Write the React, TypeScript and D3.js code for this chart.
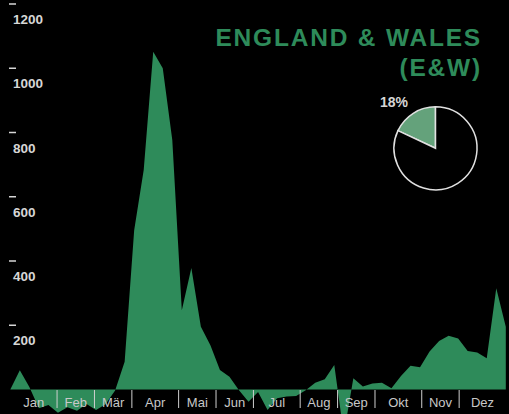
import React from "react";
import * as d3 from "d3";

const W = 509;
const H = 414;

// Weekly values (53 weeks)
const weeklyValues: number[] = [
  0, 60, 8, -58, -48, -72, -55, -66, -45, -64, -46, -3,
  86, 496, 683, 1051, 1000, 777, 247, 378, 195, 138, 61, 40,
  -2, -38, -8, -64, -27, -22, -20, -2, 21, 32, 76, -140, 35, 9, 19, 21, 4, 42,
  74, 69, 118, 151, 167, 159, 120, 115, 97, 315, 195,
];

const months: string[] = ["Jan", "Feb", "Mär", "Apr", "Mai", "Jun", "Jul", "Aug", "Sep", "Okt", "Nov", "Dez"];
const monthWeeks: number[] = [5, 4, 4, 5, 4, 4, 5, 4, 4, 5, 4, 5];

const yTicks: number[] = [200, 400, 600, 800, 1000, 1200];

const titleLines: string[] = ["ENGLAND & WALES", "(E&W)"];
const pieShare: number[] = [18, 82];
const pieLabel = "18%";

const GREEN = "#2e8b5a";
const LIGHT_GREEN = "#64a27b";
const TEXT = "#d6d6d6";

export default function App() {
  React.useEffect(() => {
    document.body.style.margin = "0";
    document.body.style.background = "#000";
  }, []);

  const x = d3.scaleLinear().domain([0, weeklyValues.length - 1]).range([10.3, 505.8]);
  const weekX = d3.scaleLinear().domain([0, 53]).range([10.3, 505.9]);
  const y = d3.scaleLinear().domain([0, 1200]).range([389.5, 4]);

  const area = d3
    .area<number>()
    .x((_, i) => x(i))
    .y0(y(0))
    .y1((d) => y(d));

  // month boundaries
  const bounds: number[] = [0];
  monthWeeks.forEach((w, i) => bounds.push(bounds[i] + w));

  const pieGen = d3
    .pie<number>()
    .sort(null)
    .startAngle((-pieShare[0] / 100) * 2 * Math.PI)
    .endAngle((-pieShare[0] / 100) * 2 * Math.PI + 2 * Math.PI);
  const arcs = pieGen(pieShare);
  const pr = 41.5;
  const arcGen = d3.arc<d3.PieArcDatum<number>>().innerRadius(0).outerRadius(pr);
  const pcx = 435.5;
  const pcy = 148.3;

  const font = "'Liberation Sans', Arial, Helvetica, sans-serif";

  return (
    <svg width={W} height={H} style={{ display: "block", background: "#000" }} fontFamily={font}>
      <rect x={0} y={0} width={W} height={H} fill="#000" />
      <path d={area(weeklyValues) || ""} fill={GREEN} />

      {/* y ticks */}
      {yTicks.map((t) => (
        <g key={t}>
          <line x1={9} x2={16} y1={y(t)} y2={y(t)} stroke={TEXT} strokeWidth={1.5} />
          <text x={13} y={y(t) + 20} fill={TEXT} fontSize={13.5} fontWeight="bold">
            {t}
          </text>
        </g>
      ))}

      {/* month separators and labels */}
      {bounds.slice(1, -1).map((b, i) => (
        <line
          key={"sep" + i}
          x1={weekX(b)}
          x2={weekX(b)}
          y1={390}
          y2={408}
          stroke="#cfcfcf"
          strokeWidth={1}
        />
      ))}
      {months.map((m, i) => (
        <text
          key={m}
          x={(weekX(bounds[i]) + weekX(bounds[i + 1])) / 2}
          y={407}
          textAnchor="middle"
          fill="#c8c8c8"
          fontSize={13}
        >
          {m}
        </text>
      ))}

      {/* title */}
      {titleLines.map((t, i) => (
        <text
          key={t}
          x={482}
          y={45.5 + i * 30}
          textAnchor="end"
          fill={GREEN}
          fontSize={24.5}
          fontWeight="bold"
          letterSpacing={1.8}
        >
          {t}
        </text>
      ))}

      {/* pie */}
      <g transform={`translate(${pcx},${pcy})`}>
        {arcs.map((a, i) => (
          <path
            key={i}
            d={arcGen(a) || ""}
            fill={i === 0 ? LIGHT_GREEN : "#000"}
            stroke="#e0e0e0"
            strokeWidth={1.5}
          />
        ))}
      </g>
      <text x={408} y={107} textAnchor="end" fill={TEXT} fontSize={14} fontWeight="bold">
        {pieLabel}
      </text>
    </svg>
  );
}
